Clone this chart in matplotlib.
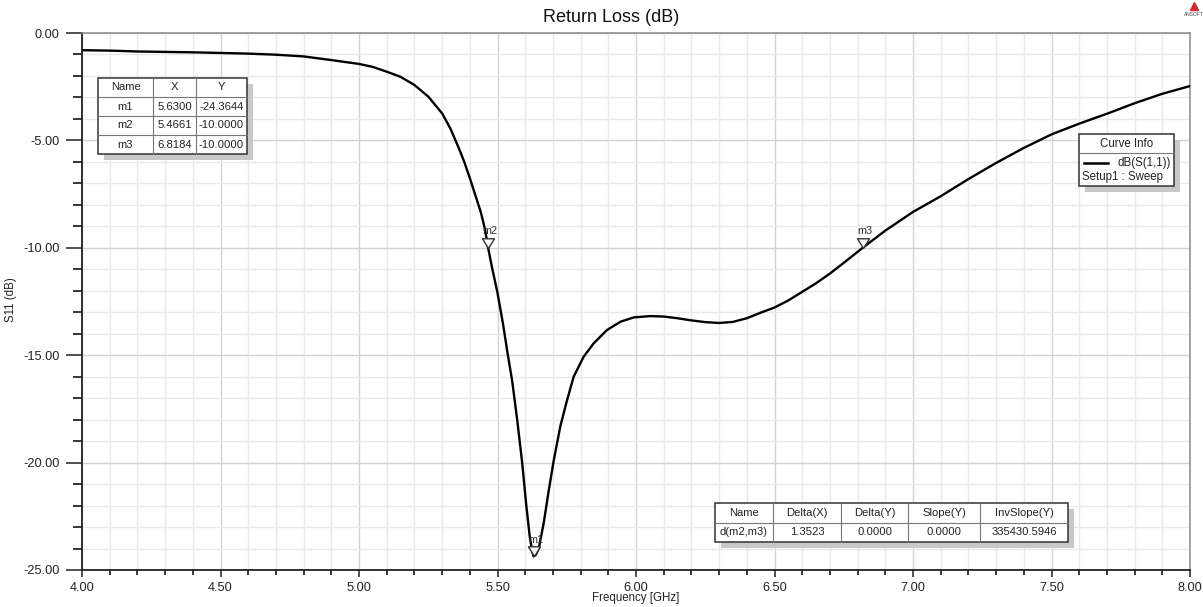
import matplotlib
matplotlib.use("Agg")
import matplotlib.pyplot as plt
from matplotlib.patches import Rectangle
from matplotlib.lines import Line2D
from matplotlib.path import Path
from matplotlib.ticker import MultipleLocator, FormatStrFormatter

plt.rcParams["font.family"] = ["Liberation Sans", "DejaVu Sans"]

# S11 sweep, frequency in GHz and return loss in dB
freq_ghz = [4.00, 4.10, 4.20, 4.30, 4.40, 4.50, 4.60, 4.70, 4.80, 4.90,
            5.00, 5.05, 5.10, 5.15, 5.20, 5.25, 5.30, 5.33, 5.36, 5.38,
            5.40, 5.42, 5.44, 5.455, 5.4661, 5.48, 5.50, 5.52, 5.535, 5.553,
            5.571, 5.589, 5.604, 5.616, 5.625, 5.63, 5.638, 5.649, 5.667, 5.685,
            5.703, 5.727, 5.751, 5.775, 5.811, 5.847, 5.895, 5.944, 5.992, 6.05,
            6.10, 6.15, 6.20, 6.25, 6.30, 6.35, 6.40, 6.45, 6.50, 6.55,
            6.60, 6.65, 6.70, 6.75, 6.8184, 6.90, 7.00, 7.10, 7.20, 7.30,
            7.40, 7.50, 7.60, 7.70, 7.80, 7.90, 8.00]
s11_db = [-0.80, -0.82, -0.86, -0.88, -0.90, -0.93, -0.96, -1.01, -1.09, -1.26,
          -1.44, -1.58, -1.80, -2.04, -2.42, -2.96, -3.74, -4.45, -5.35, -6.00,
          -6.75, -7.55, -8.35, -9.15, -10.00, -10.90, -12.10, -13.55, -14.80, -16.20,
          -18.00, -20.00, -22.00, -23.40, -24.10, -24.3644, -24.30, -24.00, -22.80, -21.30,
          -19.90, -18.30, -17.10, -16.00, -15.07, -14.45, -13.83, -13.44, -13.24, -13.18,
          -13.20, -13.28, -13.38, -13.46, -13.50, -13.45, -13.28, -13.02, -12.78, -12.45,
          -12.05, -11.65, -11.20, -10.70, -10.00, -9.20, -8.33, -7.60, -6.80, -6.05,
          -5.35, -4.72, -4.22, -3.76, -3.27, -2.83, -2.47]

marker_names = ["m1", "m2", "m3"]
marker_x = [5.6300, 5.4661, 6.8184]
marker_y = [-24.3644, -10.0000, -10.0000]

delta_header = ["Name", "Delta(X)", "Delta(Y)", "Slope(Y)", "InvSlope(Y)"]
delta_row = ["d(m2,m3)", "1.3523", "0.0000", "0.0000", "335430.5946"]

W, H = 1203, 607


def fx(px):
    return px / W


def fy(py):
    return 1 - py / H


def draw_table(fig, left, top, col_w, row_h, rows, fontsize=8.1):
    total_w = sum(col_w)
    total_h = row_h * len(rows)
    # drop shadow
    fig.patches.append(Rectangle((fx(left + 6), fy(top + total_h + 6)), fx(total_w), total_h / H,
                                 transform=fig.transFigure, facecolor="#c8c8c8", edgecolor="none",
                                 zorder=5))
    fig.patches.append(Rectangle((fx(left), fy(top + total_h)), fx(total_w), total_h / H,
                                 transform=fig.transFigure, facecolor="white", edgecolor="#333333",
                                 linewidth=1.1, zorder=6))
    for r in range(1, len(rows)):
        y = fy(top + r * row_h)
        fig.add_artist(Line2D([fx(left), fx(left + total_w)], [y, y], transform=fig.transFigure,
                              color="#777777", linewidth=0.8, zorder=7))
    x = left
    for c, w in enumerate(col_w):
        if c > 0:
            fig.add_artist(Line2D([fx(x), fx(x)], [fy(top), fy(top + total_h)], transform=fig.transFigure,
                                  color="#777777", linewidth=0.8, zorder=7))
        for r, row in enumerate(rows):
            fig.text(fx(x + w / 2), fy(top + (r + 0.5) * row_h), row[c], ha="center", va="center",
                     fontsize=fontsize, color="#222222", zorder=8)
        x += w


fig = plt.figure(figsize=(W / 100, H / 100), dpi=100)
ax = fig.add_axes([fx(82), fy(570), fx(1190) - fx(82), fy(33) - fy(570)])

ax.plot(freq_ghz, s11_db, color="black", linewidth=1.7, zorder=3, solid_joinstyle="round")

ax.set_xlim(4.0, 8.0)
ax.set_ylim(-25.0, 0.0)
ax.xaxis.set_major_locator(MultipleLocator(0.5))
ax.xaxis.set_minor_locator(MultipleLocator(0.1))
ax.yaxis.set_major_locator(MultipleLocator(5))
ax.yaxis.set_minor_locator(MultipleLocator(1))
ax.xaxis.set_major_formatter(FormatStrFormatter("%.2f"))
ax.yaxis.set_major_formatter(FormatStrFormatter("%.2f"))
ax.grid(which="major", color="#d2d2d2", linewidth=1.0)
ax.grid(which="minor", color="#e9e9e9", linewidth=1.0)
ax.set_axisbelow(True)

ax.tick_params(axis="y", which="major", direction="out", length=11.5, width=1.1, pad=4.5,
               labelsize=9.2, colors="#222222")
ax.tick_params(axis="y", which="minor", direction="out", length=6.5, width=1.1)
ax.tick_params(axis="x", which="major", direction="out", length=5, width=1.1, pad=3.5,
               labelsize=9.2, colors="#222222")
ax.tick_params(axis="x", which="minor", direction="out", length=3.5, width=1.1)

for side in ("left", "bottom"):
    ax.spines[side].set_color("#222222")
    ax.spines[side].set_linewidth(1.3)
for side in ("top", "right"):
    ax.spines[side].set_color("#8a8a8a")
    ax.spines[side].set_linewidth(1.1)

# marker triangles sit with their tip on the curve
tri = Path([(-0.62, 1.0), (0.62, 1.0), (0.0, 0.0), (-0.62, 1.0)],
           [Path.MOVETO, Path.LINETO, Path.LINETO, Path.CLOSEPOLY])
for name, mx, my in zip(marker_names, marker_x, marker_y):
    ax.plot([mx], [my], marker=tri, markersize=14, markerfacecolor="white",
            markeredgecolor="#333333", markeredgewidth=1.0, linestyle="none",
            zorder=4, clip_on=False)
    ax.annotate(name, (mx, my), xytext=(1.5, 8.5), textcoords="offset points",
                ha="center", va="bottom", fontsize=7.8, color="#333333", zorder=4)

fig.text(fx(611), fy(17), "Return Loss (dB)", ha="center", va="center", fontsize=13, color="#111111")
fig.text(fx(636), fy(598), "Frequency [GHz]", ha="center", va="center", fontsize=8.3, color="#222222")
fig.text(fx(11), fy(300), "S11 (dB)", ha="center", va="center", rotation=90, fontsize=8.3, color="#222222")

# marker table
marker_rows = [["Name", "X", "Y"]] + [[n, f"{x:.4f}", f"{y:.4f}"]
                                       for n, x, y in zip(marker_names, marker_x, marker_y)]
draw_table(fig, 98, 78, [55, 43, 51], 19, marker_rows)

# delta marker table
draw_table(fig, 715, 503, [58, 68, 67, 72, 88], 19.5, [delta_header, delta_row])

# curve info legend
lx, ly, lw, lh = 1079, 134, 95, 52
fig.patches.append(Rectangle((fx(lx + 6), fy(ly + lh + 6)), fx(lw), lh / H, transform=fig.transFigure,
                             facecolor="#c8c8c8", edgecolor="none", zorder=5))
fig.patches.append(Rectangle((fx(lx), fy(ly + lh)), fx(lw), lh / H, transform=fig.transFigure,
                             facecolor="white", edgecolor="#333333", linewidth=1.1, zorder=6))
fig.add_artist(Line2D([fx(lx), fx(lx + lw)], [fy(ly + 19), fy(ly + 19)], transform=fig.transFigure,
                      color="#777777", linewidth=0.8, zorder=7))
fig.text(fx(lx + lw / 2), fy(ly + 10), "Curve Info", ha="center", va="center", fontsize=8.3,
         color="#222222", zorder=8)
fig.add_artist(Line2D([fx(1084), fx(1108)], [fy(163), fy(163)], transform=fig.transFigure,
                      color="black", linewidth=1.8, zorder=8))
fig.text(fx(1171), fy(163), "dB(S(1,1))", ha="right", va="center", fontsize=8.3, color="#222222", zorder=8)
fig.text(fx(1082), fy(177), "Setup1 : Sweep", ha="left", va="center", fontsize=8.3, color="#222222",
         zorder=8)

# vendor logo in the corner
fig.add_artist(Line2D([fx(1194)], [fy(6)], marker="^", markersize=6, color="#d42a2a",
                      transform=fig.transFigure, linestyle="none"))
fig.text(fx(1194), fy(14), "ANSOFT", ha="center", va="center", fontsize=3.5, color="#444444")

fig.savefig("out.png", dpi=100)
